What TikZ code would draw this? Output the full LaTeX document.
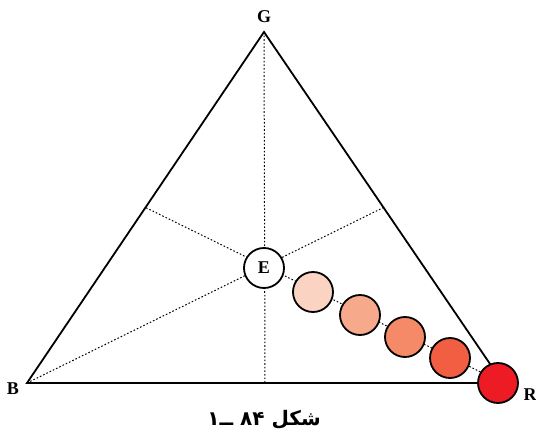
\documentclass[tikz,border=0pt]{standalone}
\usepackage{fontspec}
\usetikzlibrary{calc}
\setmainfont{Liberation Serif}
\newfontfamily\arabicfont[Script=Arabic]{DejaVu Sans}
\TeXXeTstate=1
\definecolor{c1}{HTML}{FBD3C3}
\definecolor{c2}{HTML}{F7A98C}
\definecolor{c3}{HTML}{F48A67}
\definecolor{c4}{HTML}{F15E42}
\definecolor{c5}{HTML}{ED1C24}
\begin{document}
\begin{tikzpicture}[x=1pt,y=-1pt,
  dot/.style={circle,draw=black,line width=1.8pt,minimum size=40pt,inner sep=0pt},
  lbl/.style={font=\fontsize{18}{18}\selectfont\bfseries},
  guide/.style={line width=1pt,dash pattern=on 1.6pt off 2pt}]
\useasboundingbox (0,0) rectangle (536,441);
\coordinate (G) at (264,32);
\coordinate (B) at (27,383);
\coordinate (R) at (503,383);
\coordinate (mB) at ($(G)!0.5!(R)$);
\coordinate (mR) at ($(G)!0.5!(B)$);
\coordinate (mG) at ($(B)!0.5!(R)$);
\draw[guide] (G) -- (mG);
\draw[guide] (B) -- (mB);
\draw[guide] (R) -- (mR);
\draw[line width=1.8pt,line join=miter] (G) -- (B) -- (R) -- cycle;
\node[dot,fill=white,lbl] (E) at (264,268) {E};
\node[dot,fill=c1] (d1) at (313,292) {};
\node[dot,fill=c2] (d2) at (360,315) {};
\node[dot,fill=c3] (d3) at (405,337) {};
\node[dot,fill=c4] (d4) at (450,358) {};
\node[dot,fill=c5] (d5) at (498,383) {};
\node[lbl] (lG) at (264,17) {G};
\node[lbl] (lB) at (13,389) {B};
\node[lbl] (lR) at (530,395) {R};
\node[font=\arabicfont\bfseries\fontsize{20}{20}\selectfont] (cap) at (264,420) {\beginR شکل \beginL ۸۴\endL{} ــ۱\endR};
\end{tikzpicture}
\end{document}
